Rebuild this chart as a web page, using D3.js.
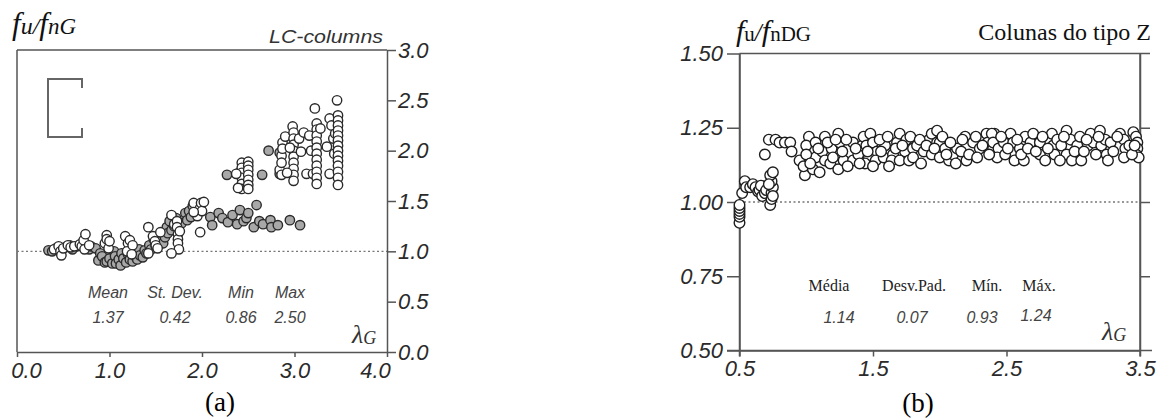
<!DOCTYPE html>
<html><head><meta charset="utf-8">
<script src="https://cdn.jsdelivr.net/npm/d3@7"></script>
<style>
body{margin:0;background:#fff;}
svg{display:block;}
.tick line,.domain,.frame{stroke:#555;stroke-width:1.5;fill:none;}
.ref{stroke:#777;stroke-width:1.3;stroke-dasharray:2,2.5;}
</style></head><body>
<svg id="chart" width="1167" height="418"></svg>
<script>
// ---- data: LC-columns (panel a) ----
const lcFilled = [
  [0.34,1.01],[0.38,1.00],[0.42,1.03],[0.52,1.04],[0.57,1.06],[0.60,1.02],[0.65,1.05],[0.78,1.02],[0.80,1.05],[0.85,1.03],
  [0.88,0.91],[0.90,0.98],[0.92,0.95],[0.95,0.89],[0.97,0.90],[1.00,0.93],[1.03,0.88],[1.05,1.00],[1.06,0.95],[1.07,0.88],
  [1.10,0.92],[1.12,0.86],[1.13,0.98],[1.15,0.93],[1.18,0.89],[1.20,0.97],[1.22,0.92],[1.25,0.90],[1.28,0.95],[1.30,0.92],
  [1.32,1.02],[1.33,0.96],[1.36,0.94],[1.38,1.01],[1.40,0.98],[1.43,1.06],[1.45,1.02],[1.48,1.12],[1.50,1.05],[1.55,1.10],
  [1.58,1.08],[1.60,1.14],[1.62,1.24],[1.63,1.18],[1.65,1.30],[1.67,1.21],[1.70,1.25],[1.72,1.33],[1.78,1.28],[1.82,1.38],
  [1.84,1.31],[1.86,1.40],[1.88,1.34],[1.90,1.45],[1.94,1.42],
  [2.09,1.34],[2.11,1.26],[2.18,1.38],[2.22,1.33],[2.28,1.29],[2.33,1.36],[2.38,1.27],[2.41,1.41],[2.45,1.30],[2.48,1.33],
  [2.50,1.38],[2.56,1.24],[2.59,1.46],[2.62,1.30],[2.66,1.27],[2.74,1.31],[2.75,1.24],[2.82,1.26],[2.95,1.31],[3.06,1.26],
  [2.27,1.76],[2.40,1.78],[2.65,1.76],[2.72,2.00],[2.84,1.98],[2.84,1.77]
];
const lcOpen = [
  [0.40,1.02],[0.45,1.05],[0.47,1.00],[0.48,0.96],[0.50,1.03],[0.55,1.06],[0.58,1.04],[0.62,1.05],[0.68,1.07],[0.70,1.05],
  [0.72,1.11],[0.74,1.17],[0.73,1.02],[0.78,1.06],
  [0.95,1.08],[0.97,1.16],[0.97,1.12],[0.99,1.03],[1.00,1.10],
  [1.17,1.15],[1.20,1.08],[1.22,1.11],[1.19,1.00],[1.25,1.06],[1.24,0.97],
  [1.42,1.24],[1.47,1.15],[1.49,1.10],[1.50,1.06],[1.42,0.98],[1.52,1.03],[1.55,1.19],
  [1.67,1.36],[1.70,1.27],[1.73,1.30],[1.73,1.24],[1.74,1.17],[1.74,1.12],[1.74,1.08],[1.75,1.02],[1.67,0.98],[1.76,1.20],
  [1.91,1.48],[1.95,1.35],[1.98,1.43],[1.99,1.48],[2.00,1.40],[2.02,1.49],[1.91,1.39],[1.98,1.19],
  [2.43,1.88],[2.43,1.83],[2.43,1.78],[2.43,1.73],[2.43,1.67],[2.43,1.62],[2.50,1.89],[2.50,1.85],[2.50,1.81],[2.50,1.76],
  [2.50,1.71],[2.50,1.66],[2.50,1.62],[2.37,1.77],[2.39,1.63],
  [2.84,1.81],[2.86,1.95],[2.87,2.08],[2.87,2.02],[2.86,1.88],[2.86,1.76],[2.90,2.14],[2.98,2.24],[2.99,2.18],[2.99,2.12],
  [2.99,2.06],[2.99,2.00],[2.99,1.94],[2.99,1.88],[2.99,1.82],[2.99,1.76],[2.99,1.70],[2.95,2.03],[2.92,1.78],[3.05,2.12],
  [3.07,1.99],[3.10,2.18],[3.13,1.77],
  [3.16,2.15],[3.18,2.00],[3.20,1.77],[3.22,2.42],[3.24,2.27],[3.24,2.21],[3.24,2.15],[3.24,2.09],[3.24,2.03],[3.24,1.97],
  [3.24,1.91],[3.24,1.85],[3.24,1.79],[3.24,1.73],[3.24,1.67],[3.28,2.22],
  [3.35,2.04],[3.38,2.32],[3.38,1.77],[3.40,2.25],[3.42,2.12],[3.43,1.97],[3.44,2.17],[3.46,2.50],[3.47,2.35],[3.47,2.30],
  [3.47,2.25],[3.47,2.20],[3.47,2.15],[3.47,2.10],[3.47,2.05],[3.47,2.00],[3.47,1.95],[3.47,1.90],[3.47,1.85],[3.47,1.79],
  [3.47,1.73],[3.47,1.66]
];
const lcXTicks = [0, 1, 2, 3, 4];
const lcYTicks = [0, 0.5, 1, 1.5, 2, 2.5, 3];
const lcStatLabels = ["Mean", "St. Dev.", "Min", "Max"];
const lcStatValues = ["1.37", "0.42", "0.86", "2.50"];

// ---- data: Z-columns (panel b) ----
const zPoints = [
  [0.50,0.93],[0.50,0.95],[0.50,0.96],[0.50,0.97],[0.50,0.98],[0.50,0.99],
  [0.52,1.03],[0.54,1.07],[0.55,1.05],[0.58,1.05],[0.60,1.06],[0.62,1.05],[0.64,1.035],[0.65,1.04],[0.67,1.02],[0.66,1.055],
  [0.69,1.03],[0.70,1.04],
  [0.73,0.99],[0.74,1.01],[0.74,1.03],[0.75,1.05],[0.74,1.07],[0.73,1.09],[0.75,1.10],[0.75,1.02],[0.72,1.06],
  [0.69,1.16],
  [0.72,1.21],[0.77,1.21],[0.80,1.20],[0.84,1.20],[0.88,1.20],[0.89,1.17],
  [0.95,1.14],[0.99,1.09],[0.98,1.12],[1.02,1.22],[1.00,1.19],[1.05,1.11],[1.07,1.20],[1.07,1.15],[1.12,1.17],[1.14,1.22],
  [1.14,1.14],[1.18,1.13],[1.19,1.18],[1.24,1.23],[1.25,1.20],[1.24,1.11],[1.28,1.14],[1.35,1.20],[1.35,1.14],[1.39,1.16],
  [1.42,1.19],
  [1.43,1.22],[1.48,1.23],[1.45,1.19],[1.50,1.20],[1.47,1.15],[1.53,1.17],[1.44,1.13],[1.52,1.14],[1.58,1.15],[1.59,1.19],
  [1.65,1.16],[1.64,1.14],[1.68,1.20],[1.70,1.23],[1.75,1.21],[1.74,1.17],[1.70,1.14],[1.77,1.14],[1.80,1.18],[1.83,1.19],
  [1.88,1.17],[1.92,1.21],[1.94,1.23],[1.98,1.24],[1.98,1.20],[2.00,1.20],[1.94,1.16],[2.00,1.15],[2.04,1.18],[2.07,1.14],
  [2.10,1.16],[2.13,1.18],[2.19,1.22],[2.20,1.14],[2.25,1.20],[2.30,1.18],[2.35,1.23],[2.36,1.20],[2.40,1.18],[2.41,1.23],
  [2.43,1.16],
  [2.39,1.23],[2.40,1.20],[2.44,1.18],[2.43,1.15],[2.48,1.20],[2.49,1.16],[2.53,1.23],[2.55,1.20],[2.56,1.14],[2.60,1.18],
  [2.63,1.14],[2.64,1.22],[2.68,1.20],[2.70,1.23],[2.75,1.20],[2.75,1.16],[2.79,1.14],[2.84,1.23],[2.85,1.19],[2.86,1.16],
  [2.88,1.21],[2.91,1.19],[2.95,1.24],[2.95,1.16],[2.98,1.21],[2.99,1.14],[3.03,1.19],[3.05,1.22],[3.06,1.14],[3.13,1.23],
  [3.11,1.19],[3.15,1.20],[3.20,1.24],[3.21,1.19],[3.24,1.21],[3.25,1.16],[3.26,1.14],[3.35,1.23],[3.38,1.21],[3.39,1.18],
  [3.38,1.15],
  [3.45,1.235],[3.47,1.22],[3.48,1.20],[3.48,1.18],[3.47,1.16],[3.49,1.15],
  [1.00,1.16],[1.03,1.13],[1.09,1.18],[1.10,1.10],[1.16,1.20],[1.20,1.15],[1.22,1.21],[1.27,1.17],[1.30,1.21],[1.31,1.12],
  [1.37,1.18],[1.40,1.13],[1.46,1.17],[1.50,1.12],[1.55,1.21],[1.56,1.17],[1.61,1.22],[1.62,1.12],[1.67,1.18],[1.72,1.19],
  [1.78,1.22],[1.80,1.15],[1.85,1.21],[1.86,1.13],[1.90,1.19],[1.96,1.18],[2.02,1.22],[2.05,1.16],[2.08,1.20],[2.12,1.13],
  [2.16,1.17],[2.17,1.21],[2.22,1.16],[2.27,1.22],[2.28,1.15],[2.32,1.19],[2.37,1.16],[2.46,1.22],[2.51,1.18],[2.58,1.21],
  [2.61,1.16],[2.66,1.18],[2.72,1.17],[2.77,1.22],[2.81,1.18],[2.90,1.14],[2.93,1.22],[3.01,1.17],[3.08,1.17],[3.10,1.21],
  [3.17,1.16],[3.19,1.22],[3.28,1.20],[3.30,1.17],[3.33,1.22],[3.42,1.19],[3.44,1.16],[3.46,1.19]
];
const zXTicks = [0.5, 1.5, 2.5, 3.5];
const zYTicks = [0.5, 0.75, 1.0, 1.25, 1.5];
const zStatLabels = ["Média", "Desv.Pad.", "Mín.", "Máx."];
const zStatValues = ["1.14", "0.07", "0.93", "1.24"];

const svg = d3.select("#chart");
const sans = '"Liberation Sans", Arial, sans-serif';
const serif = '"Liberation Serif", "Times New Roman", serif';

// italic tick labels shared by both panels
function styleTicks(g) {
  g.selectAll(".tick text")
    .attr("font-family", sans).attr("font-style", "italic")
    .attr("font-size", 22).attr("fill", "#2a2a2a");
}

// ================= panel (a) =================
const xA = d3.scaleLinear().domain([0, 4]).range([17, 387]);
const yA = d3.scaleLinear().domain([0, 3]).range([352, 50]);
const gA = svg.append("g");

gA.append("line").attr("class", "frame")
  .attr("x1", xA(0)).attr("x2", xA(4)).attr("y1", yA(3)).attr("y2", yA(3));
gA.append("line").attr("class", "frame")
  .attr("x1", xA(0)).attr("x2", xA(0)).attr("y1", yA(3)).attr("y2", yA(0));

gA.append("line").attr("class", "ref")
  .attr("x1", xA(0)).attr("x2", xA(4)).attr("y1", yA(1)).attr("y2", yA(1));

gA.append("g").attr("transform", `translate(${xA(4)},0)`)
  .call(d3.axisRight(yA).tickValues(lcYTicks).tickFormat(d3.format(".1f"))
    .tickSize(9).tickPadding(2).tickSizeOuter(0))
  .call(styleTicks);

const axA = gA.append("g").attr("transform", `translate(0,${yA(0)})`)
  .call(d3.axisBottom(xA).tickValues(lcXTicks).tickFormat(d3.format(".1f"))
    .tickSize(5).tickPadding(5).tickSizeOuter(0))
  .call(styleTicks);
axA.selectAll(".tick text").attr("dx", d => d === 0 ? 9 : (d === 4 ? -12 : 0));

// lipped-channel section symbol
const bracket = d3.path();
bracket.moveTo(82, 88); bracket.lineTo(82, 79); bracket.lineTo(48, 79);
bracket.lineTo(48, 137); bracket.lineTo(82, 137); bracket.lineTo(82, 128);
gA.append("path").attr("d", bracket.toString())
  .attr("fill", "none").attr("stroke", "#666").attr("stroke-width", 2);

gA.append("g").selectAll("circle").data(lcFilled).join("circle")
  .attr("cx", d => xA(d[0])).attr("cy", d => yA(d[1])).attr("r", 4.7)
  .attr("fill", "#a8a8a8").attr("stroke", "#2a2a2a").attr("stroke-width", 1.4);
gA.append("g").selectAll("circle").data(lcOpen).join("circle")
  .attr("cx", d => xA(d[0])).attr("cy", d => yA(d[1])).attr("r", 4.7)
  .attr("fill", "#fff").attr("stroke", "#2a2a2a").attr("stroke-width", 1.4);

// titles and labels
const labA = gA.append("text").attr("x", 12).attr("y", 34)
  .attr("font-family", serif).attr("font-style", "italic").attr("fill", "#111");
labA.append("tspan").attr("font-size", 31).text("f");
labA.append("tspan").attr("font-size", 24).text("u/");
labA.append("tspan").attr("font-size", 31).text("f");
labA.append("tspan").attr("font-size", 23).text("nG");

gA.append("text").attr("x", 383).attr("y", 43).attr("text-anchor", "end")
  .attr("font-family", sans).attr("font-style", "italic").attr("font-size", 19)
  .attr("fill", "#333").attr("textLength", 114).attr("lengthAdjust", "spacingAndGlyphs")
  .text("LC-columns");

const statXA = [108, 175, 241, 290];
gA.append("g").selectAll("text").data(lcStatLabels).join("text")
  .attr("x", (d, i) => statXA[i]).attr("y", 298).attr("text-anchor", "middle")
  .attr("font-family", sans).attr("font-style", "italic").attr("font-size", 16)
  .attr("fill", "#444").text(d => d);
gA.append("g").selectAll("text").data(lcStatValues).join("text")
  .attr("x", (d, i) => statXA[i]).attr("y", 323).attr("text-anchor", "middle")
  .attr("font-family", sans).attr("font-style", "italic").attr("font-size", 16)
  .attr("fill", "#444").text(d => d);

const lamA = gA.append("text").attr("x", 352).attr("y", 343)
  .attr("font-family", serif).attr("font-style", "italic").attr("fill", "#333");
lamA.append("tspan").attr("font-size", 26).text("λ");
lamA.append("tspan").attr("font-size", 18).attr("dy", 1).text("G");

svg.append("text").attr("x", 220).attr("y", 411).attr("text-anchor", "middle")
  .attr("font-family", serif).attr("font-size", 27).attr("fill", "#000").text("(a)");

// ================= panel (b) =================
const xB = d3.scaleLinear().domain([0.5, 3.5]).range([739.5, 1140]);
const yB = d3.scaleLinear().domain([0.5, 1.5]).range([350.5, 53.5]);
const gB = svg.append("g");

gB.append("line").attr("class", "frame")
  .attr("x1", xB(0.5)).attr("x2", xB(3.5) + 10).attr("y1", yB(1.5)).attr("y2", yB(1.5));
gB.append("line").attr("class", "frame")
  .attr("x1", xB(0.5) - 12.5).attr("x2", xB(3.5) + 12).attr("y1", yB(0.5)).attr("y2", yB(0.5));
gB.append("line").attr("class", "frame")
  .attr("x1", xB(0.5)).attr("x2", xB(0.5)).attr("y1", yB(1.5)).attr("y2", yB(0.5) + 6);
gB.append("line").attr("class", "frame")
  .attr("x1", xB(3.5)).attr("x2", xB(3.5)).attr("y1", yB(1.5)).attr("y2", yB(0.5) + 6);

gB.append("line").attr("class", "ref")
  .attr("x1", xB(0.5)).attr("x2", xB(3.5)).attr("y1", yB(1)).attr("y2", yB(1));

gB.append("g").attr("transform", `translate(${xB(0.5)},0)`)
  .call(d3.axisLeft(yB).tickValues(zYTicks).tickFormat(d3.format(".2f"))
    .tickSize(12.5).tickPadding(4).tickSizeOuter(0))
  .call(styleTicks);
gB.append("g").attr("transform", `translate(${xB(3.5)},0)`)
  .call(d3.axisRight(yB).tickValues([0.75, 1.0, 1.25]).tickFormat("")
    .tickSize(10).tickSizeOuter(0));
gB.append("g").attr("transform", `translate(0,${yB(0.5)})`)
  .call(d3.axisBottom(xB).tickValues(zXTicks).tickFormat(d3.format(".1f"))
    .tickSize(6).tickPadding(4).tickSizeOuter(0))
  .call(styleTicks);

gB.append("g").selectAll("circle").data(zPoints).join("circle")
  .attr("cx", d => xB(d[0])).attr("cy", d => yB(d[1])).attr("r", 5.3)
  .attr("fill", "#fff").attr("stroke", "#1e1e1e").attr("stroke-width", 1.4);

const labB = gB.append("text").attr("x", 736).attr("y", 41)
  .attr("font-family", serif).attr("fill", "#111");
labB.append("tspan").attr("font-size", 30).attr("font-style", "italic").text("f");
labB.append("tspan").attr("font-size", 21).text("u");
labB.append("tspan").attr("font-size", 25).attr("font-style", "italic").text("/");
labB.append("tspan").attr("font-size", 30).attr("font-style", "italic").text("f");
labB.append("tspan").attr("font-size", 21).text("nDG");

gB.append("text").attr("x", 1151).attr("y", 40).attr("text-anchor", "end")
  .attr("font-family", serif).attr("font-size", 24).attr("fill", "#111")
  .text("Colunas do tipo Z");

const statLabXB = [829, 914, 987, 1039];
const statValXB = [839, 912, 982, 1036];
gB.append("g").selectAll("text").data(zStatLabels).join("text")
  .attr("x", (d, i) => statLabXB[i]).attr("y", 291).attr("text-anchor", "middle")
  .attr("font-family", serif).attr("font-size", 16).attr("fill", "#222").text(d => d);
gB.append("g").selectAll("text").data(zStatValues).join("text")
  .attr("x", (d, i) => statValXB[i]).attr("y", (d, i) => i === 3 ? 321 : 323)
  .attr("text-anchor", "middle")
  .attr("font-family", sans).attr("font-style", "italic").attr("font-size", 16)
  .attr("fill", "#444").text(d => d);

const lamB = gB.append("text").attr("x", 1102).attr("y", 340)
  .attr("font-family", serif).attr("font-style", "italic").attr("fill", "#333");
lamB.append("tspan").attr("font-size", 26).text("λ");
lamB.append("tspan").attr("font-size", 18).attr("dy", 1).text("G");

svg.append("text").attr("x", 918).attr("y", 412).attr("text-anchor", "middle")
  .attr("font-family", serif).attr("font-size", 27).attr("fill", "#000").text("(b)");
</script></body></html>
